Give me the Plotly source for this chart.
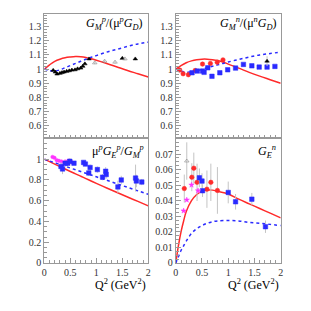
import plotly.graph_objects as go

# ---- theory curves ----
th_x = [0, 0.1, 0.2, 0.3, 0.4, 0.5, 0.6, 0.7, 0.8, 0.9, 1.0, 1.2, 1.4, 1.6, 1.8, 2.0]
gmp_red = [1.0, 1.03, 1.055, 1.07, 1.08, 1.085, 1.088, 1.087, 1.082, 1.073, 1.063, 1.04, 1.015, 0.99, 0.967, 0.944]
gmp_blue = [1.0, 0.99, 0.985, 0.995, 1.01, 1.025, 1.04, 1.055, 1.07, 1.083, 1.095, 1.12, 1.14, 1.16, 1.178, 1.19]
gmn_red = [1.0, 1.025, 1.045, 1.058, 1.066, 1.07, 1.07, 1.066, 1.06, 1.05, 1.035, 1.007, 0.977, 0.95, 0.925, 0.9]
gmn_blue = [1.0, 0.985, 0.978, 0.98, 0.988, 0.998, 1.01, 1.02, 1.03, 1.04, 1.05, 1.068, 1.085, 1.1, 1.11, 1.12]
rat_red = [1.0, 0.976, 0.952, 0.929, 0.905, 0.882, 0.859, 0.836, 0.813, 0.79, 0.767, 0.723, 0.679, 0.636, 0.593, 0.55]
rat_blue = [1.0, 0.983, 0.966, 0.949, 0.932, 0.915, 0.898, 0.881, 0.864, 0.847, 0.83, 0.797, 0.763, 0.729, 0.695, 0.662]
gen_x = [0, 0.05, 0.1, 0.15, 0.2, 0.3, 0.4, 0.5, 0.6, 0.7, 0.8, 1.0, 1.2, 1.4, 1.6, 1.8, 2.0]
gen_red = [0, 0.011, 0.02, 0.027, 0.033, 0.04, 0.044, 0.046, 0.0468, 0.0468, 0.046, 0.0443, 0.041, 0.038, 0.035, 0.032, 0.029]
gen_blue = [0, 0.004, 0.008, 0.011, 0.014, 0.019, 0.022, 0.024, 0.0255, 0.0265, 0.027, 0.0273, 0.027, 0.026, 0.0255, 0.0248, 0.024]

# ---- data: G_M^p ----
gmp_fx = [0.17, 0.21, 0.245, 0.3, 0.34, 0.38, 0.43, 0.48, 0.53, 0.59, 0.64, 0.7, 0.74, 0.78, 0.86, 1.5, 1.75]
gmp_fy = [0.991, 0.979, 0.965, 0.97, 0.975, 0.979, 0.984, 0.988, 0.993, 0.995, 1.002, 1.007, 1.02, 1.037, 1.072, 1.076, 1.072]
gmp_ox = [0.97, 1.16, 1.36, 1.55]
gmp_oy = [1.044, 1.056, 1.049, 1.072]

# ---- data: G_M^n ----
gmn_rx = [0.075, 0.14, 0.24, 0.37, 0.51, 0.66, 0.79, 0.9]
gmn_ry = [0.993, 0.967, 0.96, 0.99, 1.035, 1.04, 1.049, 1.065]
gmn_bx = [0.31, 0.41, 0.51, 0.54, 0.61, 0.69, 0.84, 0.99, 1.14, 1.29, 1.45, 1.59, 1.74, 1.89]
gmn_by = [0.974, 0.986, 0.986, 0.977, 1.009, 0.949, 0.974, 0.995, 1.007, 1.033, 1.023, 1.014, 1.014, 1.019]
gmn_tx = [1.74]
gmn_ty = [1.056]

# ---- data: mu G_E^p / G_M^p ----
rat_mx = [0.157, 0.195, 0.24, 0.28, 0.33, 0.40, 0.46, 0.53]
rat_my = [1.022, 1.013, 0.99, 0.984, 0.978, 0.978, 0.984, 0.97]
rat_bx = [0.32, 0.35, 0.40, 0.45, 0.49, 0.57, 0.755, 0.79, 0.855, 0.88, 1.02, 1.12, 1.18, 1.19, 1.415, 1.48, 1.755, 1.77, 1.875]
rat_by = [0.93, 0.906, 0.96, 0.96, 0.98, 0.962, 0.969, 0.953, 0.868, 0.92, 0.9, 0.827, 0.884, 0.852, 0.733, 0.8, 0.818, 0.79, 0.78]
rat_be = [0.04, 0.05, 0.03, 0.03, 0.03, 0.02, 0.02, 0.02, 0.03, 0.03, 0.03, 0.03, 0.04, 0.04, 0.06, 0.04, 0.13, 0.06, 0.03]

# ---- data: G_E^n ----
gen_rx = [0.1625, 0.306, 0.344, 0.406, 0.594, 0.669, 0.794]
gen_ry = [0.0478, 0.0551, 0.0609, 0.0518, 0.0474, 0.0518, 0.0466]
gen_re = [0.009, 0.009, 0.01, 0.012, 0.012, 0.012, 0.015]
gen_bx = [0.45, 0.5, 0.51, 1.0, 1.14, 1.45, 1.71]
gen_by = [0.0547, 0.0526, 0.0464, 0.0453, 0.0393, 0.041, 0.0233]
gen_be = [0.006, 0.005, 0.004, 0.007, 0.005, 0.004, 0.004]
gen_mx = [0.15, 0.21, 0.3, 0.425]
gen_my = [0.0335, 0.0405, 0.0501, 0.0464]
gen_tx = [0.21]
gen_ty = [0.0655]

RED = '#ff2a2a'
BLUE = '#2a2aff'
MAG = '#ff33ff'
GRAY = '#c4c4c4'

fig = go.Figure()

def line(x, y, color, dash, xa, ya):
    fig.add_trace(go.Scatter(x=x, y=y, mode='lines', line=dict(color=color, width=1.5, dash=dash, shape='spline'),
                             xaxis=xa, yaxis=ya, showlegend=False, hoverinfo='skip'))

def pts(x, y, color, symbol, size, xa, ya, err=None):
    kw = {}
    if err is not None:
        kw['error_y'] = dict(type='data', array=err, color=GRAY, thickness=1, width=0)
    fig.add_trace(go.Scatter(x=x, y=y, mode='markers', marker=dict(color=color, symbol=symbol, size=size,
                             line=dict(width=0.5, color=color)), xaxis=xa, yaxis=ya, showlegend=False, **kw))

# panel 1
line(th_x, gmp_red, RED, 'solid', 'x', 'y')
line(th_x, gmp_blue, BLUE, 'dot', 'x', 'y')
pts(gmp_fx, gmp_fy, 'black', 'triangle-up', 4, 'x', 'y', err=[0.01] * len(gmp_fx))
pts(gmp_ox, gmp_oy, '#777777', 'triangle-up-open', 4, 'x', 'y', err=[0.01] * len(gmp_ox))

# panel 2
line(th_x, gmn_red, RED, 'solid', 'x2', 'y2')
line(th_x, gmn_blue, BLUE, 'dot', 'x2', 'y2')
pts(gmn_rx, gmn_ry, RED, 'circle', 4.5, 'x2', 'y2', err=[0.015] * len(gmn_rx))
pts(gmn_bx, gmn_by, BLUE, 'square', 4.5, 'x2', 'y2', err=[0.008] * len(gmn_bx))
pts(gmn_tx, gmn_ty, 'black', 'triangle-up', 4, 'x2', 'y2', err=[0.035])

# panel 3
line(th_x, rat_red, RED, 'solid', 'x3', 'y3')
line(th_x, rat_blue, BLUE, 'dot', 'x3', 'y3')
pts(rat_mx, rat_my, MAG, 'circle', 3.5, 'x3', 'y3', err=[0.01] * len(rat_mx))
pts(rat_bx, rat_by, BLUE, 'square', 4.5, 'x3', 'y3', err=rat_be)

# panel 4
line(gen_x, gen_red, RED, 'solid', 'x4', 'y4')
line(gen_x, gen_blue, BLUE, 'dot', 'x4', 'y4')
pts(gen_rx, gen_ry, RED, 'circle', 4.5, 'x4', 'y4', err=gen_re)
pts(gen_bx, gen_by, BLUE, 'square', 4.5, 'x4', 'y4', err=gen_be)
pts(gen_mx, gen_my, MAG, 'star', 4, 'x4', 'y4')
pts(gen_tx, gen_ty, '#777777', 'triangle-up-open', 4, 'x4', 'y4', err=[0.012])

FONT = 'Liberation Serif'
W = 311.0
OFF = 8  # page body margin compensation

def px_x(p):
    return (p - OFF) / W

def px_y(p):
    return 1 - (p - OFF) / W

xd_l = [px_x(42), px_x(148)]
xd_r = [px_x(176), px_x(283)]
yd_t = [px_y(141), px_y(14)]
yd_b = [px_y(268), px_y(141)]

xt_vals = [0, 0.5, 1, 1.5, 2]
xt_text = ['0', '0.5', '1', '1.5', '2']

def xax(domain, anchor, labels):
    return dict(domain=domain, anchor=anchor, range=[0, 2], showgrid=False, zeroline=False,
                showline=True, linecolor='#999999', linewidth=1, mirror=True,
                ticks='inside', ticklen=5, tickcolor='#999999', tickvals=xt_vals,
                ticktext=xt_text if labels else [''] * 5, showticklabels=labels,
                minor=dict(ticks='inside', ticklen=3, dtick=0.1, tickcolor='#999999'),
                tickfont=dict(family=FONT, size=10, color='#333333'))

def yax(domain, anchor, rng, vals, texts, mdt):
    return dict(domain=domain, anchor=anchor, range=rng, showgrid=False, zeroline=False,
                showline=True, linecolor='#999999', linewidth=1, mirror=True,
                ticks='inside', ticklen=5, tickcolor='#999999', tickvals=vals, ticktext=texts,
                minor=dict(ticks='inside', ticklen=3, dtick=mdt, tickcolor='#999999'),
                tickfont=dict(family=FONT, size=10, color='#333333'))

y1_vals = [0.6, 0.7, 0.8, 0.9, 1.0, 1.1, 1.2, 1.3]
y1_text = ['0.6', '0.7', '0.8', '0.9', '1', '1.1', '1.2', '1.3']
y3_vals = [0, 0.2, 0.4, 0.6, 0.8, 1.0]
y3_text = ['0', '0.2', '0.4', '0.6', '0.8', '1']
y4_vals = [0, 0.01, 0.02, 0.03, 0.04, 0.05, 0.06, 0.07]
y4_text = ['0', '0.01', '0.02', '0.03', '0.04', '0.05', '0.06', '0.07']

fig.update_layout(
    width=311, height=311, margin=dict(l=0, r=0, t=0, b=0),
    paper_bgcolor='white', plot_bgcolor='white',
    xaxis=xax(xd_l, 'y', False), yaxis=yax(yd_t, 'x', [0.51, 1.39], y1_vals, y1_text, 0.02),
    xaxis2=xax(xd_r, 'y2', False), yaxis2=yax(yd_t, 'x2', [0.51, 1.39], y1_vals, y1_text, 0.02),
    xaxis3=xax(xd_l, 'y3', True), yaxis3=yax(yd_b, 'x3', [0, 1.2], y3_vals, y3_text, 0.05),
    xaxis4=xax(xd_r, 'y4', True), yaxis4=yax(yd_b, 'x4', [0, 0.08], y4_vals, y4_text, 0.0025),
)

tf = dict(family=FONT, size=12, color='black')
ann = [
    dict(text='<i>G</i><sub><i>M</i></sub><sup><i>p</i></sup>/(μ<sup><i>p</i></sup><i>G</i><sub><i>D</i></sub>)',
         x=px_x(145), y=px_y(24), xanchor='right', yanchor='middle'),
    dict(text='<i>G</i><sub><i>M</i></sub><sup><i>n</i></sup>/(μ<sup><i>n</i></sup><i>G</i><sub><i>D</i></sub>)',
         x=px_x(281), y=px_y(24), xanchor='right', yanchor='middle'),
    dict(text='μ<sup><i>p</i></sup><i>G</i><sub><i>E</i></sub><sup><i>p</i></sup>/<i>G</i><sub><i>M</i></sub><sup><i>p</i></sup>',
         x=px_x(146), y=px_y(154), xanchor='right', yanchor='middle'),
    dict(text='<i>G</i><sub><i>E</i></sub><sup><i>n</i></sup>',
         x=px_x(280), y=px_y(154), xanchor='right', yanchor='middle'),
    dict(text='Q<sup>2</sup> (GeV<sup>2</sup>)', x=px_x(148), y=px_y(290), xanchor='right', yanchor='middle'),
    dict(text='Q<sup>2</sup> (GeV<sup>2</sup>)', x=px_x(283), y=px_y(290), xanchor='right', yanchor='middle'),
]
for a in ann:
    a.update(xref='paper', yref='paper', showarrow=False, font=tf)
fig.update_layout(annotations=ann)

fig.write_html('out.html')
